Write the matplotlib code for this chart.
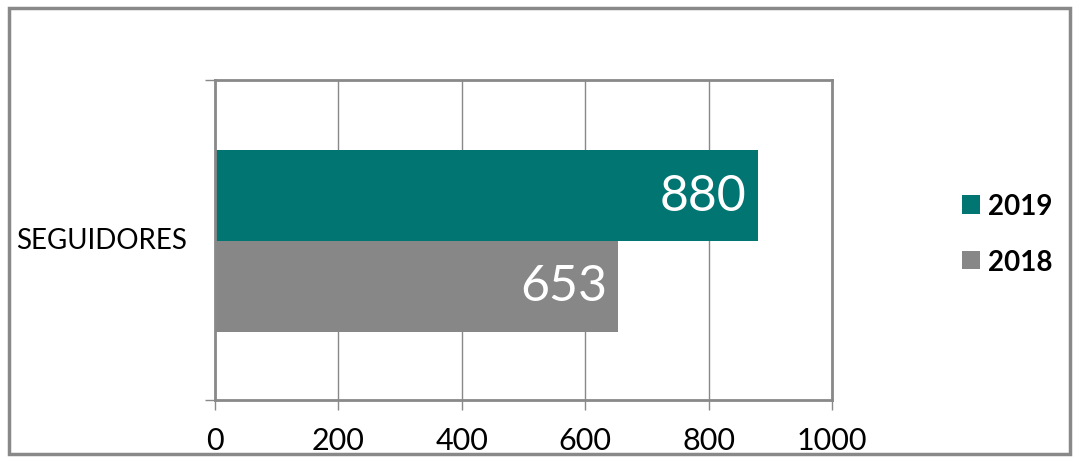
import matplotlib.pyplot as plt
from matplotlib.patches import Rectangle

# data
category = 'SEGUIDORES'
years = ['2019', '2018']
values = [880, 653]
colors = ['#007572', '#878787']
xticks = [0, 200, 400, 600, 800, 1000]

plt.rcParams['font.family'] = ['Lato', 'DejaVu Sans']

fig = plt.figure(figsize=(10.75, 4.64), dpi=100)
W, H = 1075, 464
ax = fig.add_axes([215 / W, 1 - 401 / H, (832 - 215) / W, (401 - 81) / H])

# outer frame
fig.patches.append(Rectangle((9 / W, 9 / H), (1070 - 9) / W, (455 - 9) / H,
                             transform=fig.transFigure, fill=False,
                             edgecolor='#898989', linewidth=2.5))

bar_h = 0.284
pos = [0.497 + bar_h / 2, 0.497 - bar_h / 2]
for p, v, c, yr in zip(pos, values, colors, years):
    ax.barh(p, v, height=bar_h, color=c, label=yr)
    ax.text(v - 18, p, str(v), ha='right', va='center', color='white',
            fontsize=36)

ax.set_xlim(0, 1000)
ax.set_ylim(0, 1)
ax.set_xticks(xticks)
ax.set_xticklabels([str(t) for t in xticks], fontsize=22)
ax.set_yticks([0, 1])
ax.set_yticklabels(['', ''])
ax.tick_params(axis='x', length=7, color='#898989', width=1, pad=12)
ax.tick_params(axis='y', length=7, color='#898989', width=1)
ax.text(-45, 0.5, category, ha='right', va='center', fontsize=20,
        transform=ax.transData)
ax.grid(axis='x', color='#898989', linewidth=1)
ax.set_axisbelow(True)
for s in ax.spines.values():
    s.set_color('#898989')
    s.set_linewidth(2)

leg = fig.legend(loc='center left', bbox_to_anchor=(937 / W, 1 - 235 / H),
                 frameon=False, handlelength=0.65, handleheight=0.65,
                 handletextpad=0.3, labelspacing=1.05,
                 prop={'size': 20, 'weight': 'bold'})

fig.savefig('out.png', dpi=100)
